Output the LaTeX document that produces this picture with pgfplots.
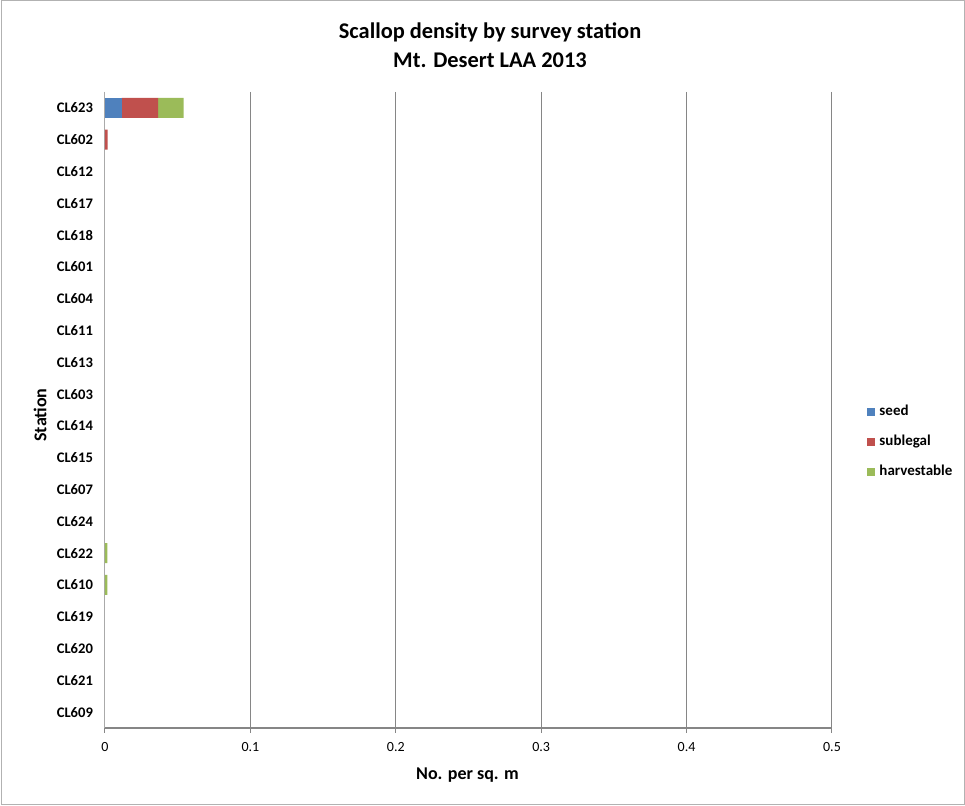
\documentclass[border=0pt]{standalone}
\usepackage{fontspec}
\setmainfont{Carlito}
\usepackage{pgfplots}
\pgfplotsset{compat=1.18}
\definecolor{cseed}{HTML}{4F81BD}
\definecolor{csub}{HTML}{C0504D}
\definecolor{charv}{HTML}{9BBB59}
\definecolor{gridc}{HTML}{868686}
\begin{document}
\begin{tikzpicture}[x=1pt,y=1pt]
\useasboundingbox (0,0) rectangle (482.5,403);
\draw[gray!60, line width=0.5pt] (0.5,0.5) rectangle (482,402.5);
\node[font=\bfseries\fontsize{11.2}{13}\selectfont] at (245,387) {Scallop density by survey station};
\node[font=\bfseries\fontsize{11.2}{13}\selectfont] at (245,373) {Mt. Desert LAA 2013};
\node[font=\bfseries\fontsize{9}{11}\selectfont, rotate=90] at (20,195.5) {Station};
\node[font=\bfseries\fontsize{9}{11}\selectfont] at (233.75,15.5) {No. per sq. m};
\begin{axis}[
  at={(52.5pt,39pt)}, anchor=south west,
  scale only axis, width=363.5pt, height=318pt,
  xbar stacked, bar width=10pt,
  xmin=0, xmax=0.5,
  xtick={0,0.1,0.2,0.3,0.4,0.5},
  ymin=-0.5, ymax=19.5, y dir=reverse,
  ytick={0,...,19},
  yticklabels={CL623,CL602,CL612,CL617,CL618,CL601,CL604,CL611,CL613,CL603,CL614,CL615,CL607,CL624,CL622,CL610,CL619,CL620,CL621,CL609},
  yticklabel style={font=\bfseries\fontsize{7.3}{8}\selectfont, xshift=-2.5pt},
  xticklabel style={font=\fontsize{7}{8}\selectfont, yshift=-1pt},
  /pgf/number format/assume math mode=true,
  axis x line*=bottom, axis y line*=left,
  x axis line style={gridc, line width=1pt},
  y axis line style={gridc!70, line width=0.5pt},
  xmajorgrids, major grid style={gridc, line width=0.5pt},
  xtick style={gridc, line width=0.5pt}, xtick align=outside, major tick length=2.5pt,
  ytick style={draw=none},
  legend style={at={(1.04,0.45)}, anchor=west, draw=none, fill=none,
    font=\bfseries\fontsize{7.5}{9}\selectfont, row sep=4.2pt,
    legend cell align=left},
  legend image code/.code={\fill[#1] (0pt,-2pt) rectangle (4pt,2pt);},
]
\addplot[fill=cseed, draw=none] coordinates {
(0.0115,0) (0,1) (0,2) (0,3) (0,4) (0,5) (0,6) (0,7) (0,8) (0,9)
(0,10) (0,11) (0,12) (0,13) (0,14) (0,15) (0,16) (0,17) (0,18) (0,19)};
\addplot[fill=csub, draw=none] coordinates {
(0.025,0) (0.0018,1) (0,2) (0,3) (0,4) (0,5) (0,6) (0,7) (0,8) (0,9)
(0,10) (0,11) (0,12) (0,13) (0,14) (0,15) (0,16) (0,17) (0,18) (0,19)};
\addplot[fill=charv, draw=none] coordinates {
(0.0175,0) (0,1) (0,2) (0,3) (0,4) (0,5) (0,6) (0,7) (0,8) (0,9)
(0,10) (0,11) (0,12) (0,13) (0.0016,14) (0.0016,15) (0,16) (0,17) (0,18) (0,19)};
\legend{seed,sublegal,harvestable}
\end{axis}
\end{tikzpicture}
\end{document}
